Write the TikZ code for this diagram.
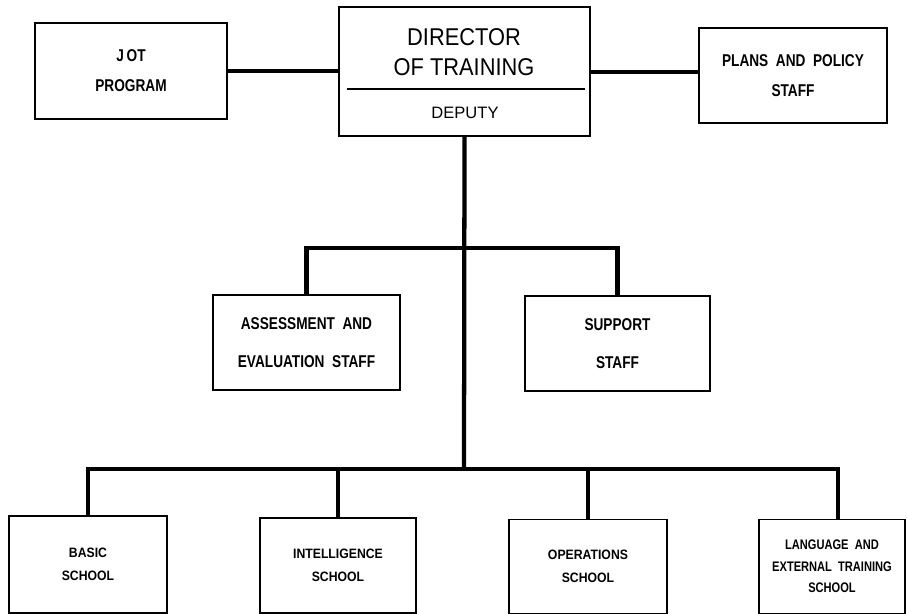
\documentclass[tikz,border=0pt]{standalone}
\usepackage{fontspec}
\setmainfont{Liberation Sans}
\newfontfamily\narrowfont[FakeStretch=0.8]{Liberation Sans}
\newfontfamily\schoolfont[FakeStretch=0.9]{Liberation Sans}
\newfontfamily\headfont[FakeStretch=0.9]{Liberation Sans}

\tikzset{every picture/.style={line width=0.75pt},
	unit/.style={draw, line width=1.1pt, inner sep=0pt, align=center},
	staff/.style={unit, font=\narrowfont\bfseries\fontsize{12.8}{22.5}\selectfont},
	school/.style={unit, font=\schoolfont\bfseries\fontsize{10.2}{17}\selectfont},
	link/.style={line width=3.2pt}}

\begin{document}
\begin{tikzpicture}[x=0.75pt,y=0.75pt,yscale=-1,xscale=1]
	\useasboundingbox (0,0) rectangle (907,614);

	% Director box
	\node[unit, minimum width=188.25pt, minimum height=96.75pt] (dir) at (464.5,71.5) {};
	% Text Node
	\node[align=center, font=\headfont\fontsize{18.2}{22.5}\selectfont] (dtitle) at (464,52) {DIRECTOR\\OF TRAINING};
	% Text Node
	\node[font=\fontsize{12.4}{14}\selectfont] (deputy) at (465,113) {DEPUTY};
	%Straight Lines
	\draw [line width=0.9pt] (347,89) -- (585,89) ;

	% Side boxes
	\node[staff, minimum width=144pt, minimum height=72pt] (jot) at (131,71) {J\,OT\\PROGRAM};
	\node[staff, minimum width=141pt, minimum height=71.25pt] (plans) at (793,75.5) {PLANS\ \ AND\ \ POLICY\\STAFF};

	% Staff boxes
	\node[staff, minimum width=140.25pt, minimum height=71.25pt] (assess) at (306.5,342.5) {ASSESSMENT\ \ AND\\[6pt]EVALUATION\ \ STAFF};
	\node[staff, minimum width=138.75pt, minimum height=71.25pt] (support) at (617.5,343.5) {SUPPORT\\[6pt]STAFF};

	% Schools
	\node[school, minimum width=118.5pt, minimum height=72.75pt] (basic) at (88,564.5) {BASIC\\SCHOOL};
	\node[school, minimum width=117pt, minimum height=71.25pt] (intel) at (338,565.5) {INTELLIGENCE\\SCHOOL};
	\node[school, minimum width=118.5pt, minimum height=70.5pt] (ops) at (588,566.5) {OPERATIONS\\SCHOOL};
	\node[school, minimum width=109.5pt, minimum height=70.5pt, font=\narrowfont\bfseries\fontsize{10.4}{16.2}\selectfont] (lang) at (832,566.5) {LANGUAGE\ \ AND\\EXTERNAL\ \ TRAINING\\SCHOOL};

	% Connectors
	\coordinate (midbar) at (464,248);
	\coordinate (bus) at (464,469);
	\draw [link] (jot.east) -- (jot.east -| dir.west) ;
	\draw [link] (dir.east |- 0,72) -- (plans.west |- 0,72) ;
	\draw [link] (dir.south) -- (bus) ;
	\draw [link] (assess.north) |- (midbar) -| (support.north) ;
	\draw [link] (basic.north) |- (bus) -| ([xshift=4.5pt]lang.north) ;
	\draw [link] (intel.north) -- (intel.north |- bus) ;
	\draw [link] (ops.north) -- (ops.north |- bus) ;

\end{tikzpicture}
\end{document}
